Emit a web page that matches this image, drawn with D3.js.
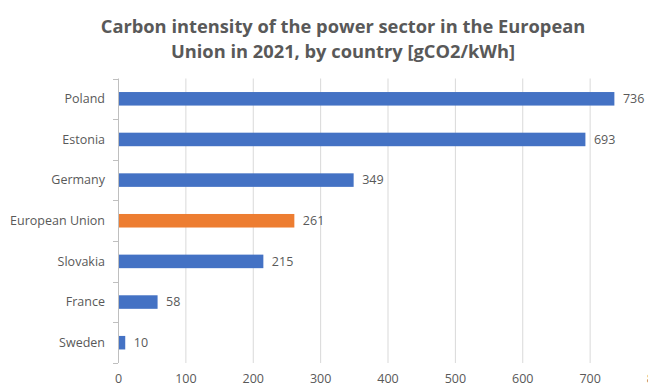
<!DOCTYPE html>
<html>
<head>
<meta charset="utf-8">
<script src="https://cdn.jsdelivr.net/npm/d3@7"></script>
<style>
  body { margin: 0; background: #fff; }
  text { font-family: "Open Sans", sans-serif; fill: #595959; }
</style>
</head>
<body>
<script>
// chart data
var countries = ["Poland", "Estonia", "Germany", "European Union", "Slovakia", "France", "Sweden"];
var intensity = [736, 693, 349, 261, 215, 58, 10];
var xTicks = [0, 100, 200, 300, 400, 500, 600, 700, 800];
var titleLines = ["Carbon intensity of the power sector in the European", "Union in 2021, by country [gCO2/kWh]"];

var width = 648, height = 390;
var margin = {top: 78.5, right: -9, bottom: 27, left: 118};

var values = countries.map(function(c, i) { return {name: c, v: intensity[i]}; });

var svg = d3.select("body")
  .append("svg")
    .attr("width", width)
    .attr("height", height);

// scales
var xScale = d3.scaleLinear()
  .domain([0, 800])
  .range([margin.left, width - margin.right]);

var yScale = d3.scaleBand()
  .domain(countries)
  .range([margin.top, height - margin.bottom])
  .paddingInner(0.667)
  .paddingOuter(0.333);

// vertical gridlines
svg.append("g")
  .selectAll("line")
  .data(xTicks.slice(1))
  .enter()
  .append("line")
    .attr("x1", function(d) { return xScale(d) + 0.5; })
    .attr("x2", function(d) { return xScale(d) + 0.5; })
    .attr("y1", margin.top)
    .attr("y2", height - margin.bottom)
    .attr("stroke", "#d9d9d9")
    .attr("stroke-width", 1);

// bars
svg.selectAll(".bar")
  .data(values)
  .enter()
  .append("rect")
    .attr("class", "bar")
    .attr("x", xScale(0) + 0.5)
    .attr("y", function(d) { return yScale(d.name); })
    .attr("width", function(d) { return xScale(d.v) - xScale(0); })
    .attr("height", yScale.bandwidth())
    .attr("fill", function(d) { return d.name == "European Union" ? "#ED7D31" : "#4472C4"; });

// value labels
svg.selectAll(".val")
  .data(values)
  .enter()
  .append("text")
    .attr("class", "val")
    .attr("x", function(d) { return xScale(d.v) + 9; })
    .attr("y", function(d) { return yScale(d.name) + yScale.bandwidth() / 2; })
    .attr("dy", "0.35em")
    .style("font-size", "12.5px")
    .text(function(d) { return d.v; });

// category axis, ticks between categories
var step = yScale.step();
var yAxis = svg.append("g");
yAxis.append("line")
  .attr("x1", xScale(0) + 0.5).attr("x2", xScale(0) + 0.5)
  .attr("y1", margin.top).attr("y2", height - margin.bottom)
  .attr("stroke", "#bfbfbf");
yAxis.selectAll(".tk")
  .data(d3.range(countries.length + 1))
  .enter()
  .append("line")
    .attr("class", "tk")
    .attr("x1", xScale(0) - 5).attr("x2", xScale(0))
    .attr("y1", function(i) { return Math.round(margin.top + i * step) + 0.5; })
    .attr("y2", function(i) { return Math.round(margin.top + i * step) + 0.5; })
    .attr("stroke", "#bfbfbf");
yAxis.selectAll(".lbl")
  .data(countries)
  .enter()
  .append("text")
    .attr("class", "lbl")
    .attr("x", xScale(0) - 13)
    .attr("y", function(d) { return yScale(d) + yScale.bandwidth() / 2; })
    .attr("dy", "0.35em")
    .attr("text-anchor", "end")
    .style("font-size", "12.5px")
    .text(function(d) { return d; });

// value axis labels (the 800 label runs off the right edge, as in the source)
var x_axis = d3.axisBottom(xScale).tickValues(xTicks).tickSize(0).tickPadding(11);
var xg = svg.append("g")
  .attr("transform", "translate(0," + (height - margin.bottom) + ")")
  .call(x_axis);
xg.select(".domain").remove();
xg.selectAll("text")
  .style("font-size", "12.5px")
  .style("font-family", "Open Sans, sans-serif")
  .attr("fill", "#595959");

// title
svg.append("g")
  .selectAll("text")
  .data(titleLines)
  .enter()
  .append("text")
    .attr("x", 343)
    .attr("y", function(d, i) { return 27 + i * 25; })
    .attr("dy", "0.35em")
    .attr("text-anchor", "middle")
    .style("font-size", "18.3px")
    .style("font-weight", "bold")
    .text(function(d) { return d; });
</script>
</body>
</html>
